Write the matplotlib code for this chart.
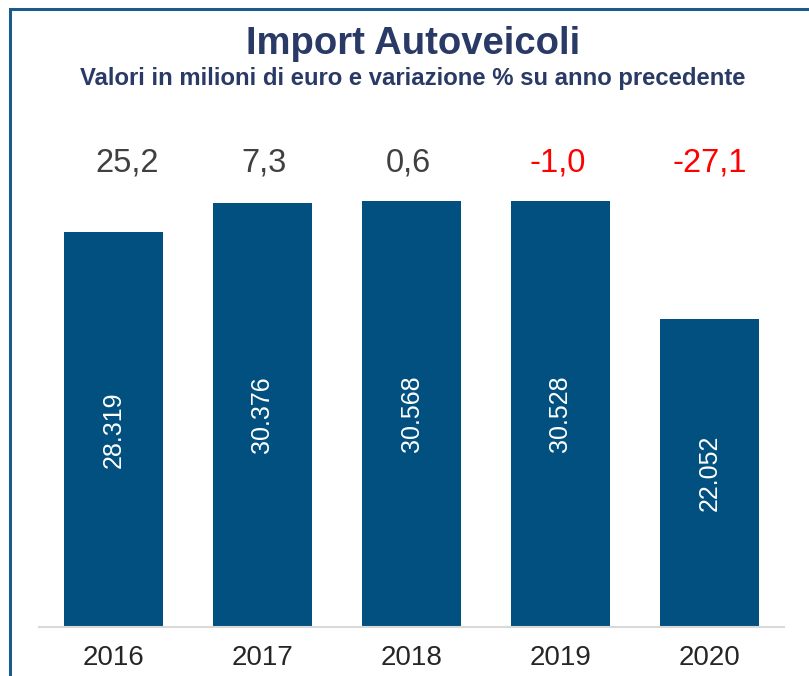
import matplotlib.pyplot as plt
from matplotlib.patches import Rectangle

plt.rcParams['font.family'] = ['Liberation Sans', 'DejaVu Sans']

# dati
anni = ['2016', '2017', '2018', '2019', '2020']
valori = [28319, 30376, 30568, 30528, 22052]
variazioni = [25.2, 7.3, 0.6, -1.0, -27.1]

W, H = 809, 676
fig = plt.figure(figsize=(W / 100, H / 100), dpi=100)
fig.patch.set_facecolor('white')

# cornice blu (lati destro e basso fuori immagine)
fig.add_artist(Rectangle((9.5 / W, -0.1), 1.2, 1.1 - 8.5 / H, transform=fig.transFigure,
                         fill=False, edgecolor='#1c5a8a', linewidth=2.2))

ax = fig.add_axes([39 / W, 1 - 627 / H, 745 / W, (627 - 140) / H])
x = range(len(anni))
bars = ax.bar(x, valori, width=0.665, color='#02507f', zorder=2)
ax.set_xlim(-0.5, 4.5)
ax.set_ylim(0, 34915)

for s in ['top', 'right', 'left']:
    ax.spines[s].set_visible(False)
ax.spines['bottom'].set_color('#d9d9d9')
ax.spines['bottom'].set_linewidth(1.5)
ax.set_yticks([])
ax.set_xticks(list(x))
ax.set_xticklabels(anni, fontsize=20, color='#262626')
ax.tick_params(axis='x', length=0, pad=13)

# le etichette % non sono tutte centrate esattamente sulla barra
sposta = [0.09, 0.01, -0.02, -0.02, 0]
for i, (v, p) in enumerate(zip(valori, variazioni)):
    ax.text(i, v / 2, f'{v:,}'.replace(',', '.'), rotation=90, ha='center', va='center',
            color='white', fontsize=18)
    col = '#ff0000' if p < 0 else '#404040'
    ax.text(i + sposta[i], 1 - 23 / 487, f'{p:.1f}'.replace('.', ','),
            transform=ax.get_xaxis_transform(),
            ha='center', va='center', color=col, fontsize=23.5)

fig.text(413 / W, 1 - 44 / H, 'Import Autoveicoli', ha='center', va='center',
         fontsize=27.5, fontweight='bold', color='#2a3a66')
fig.text(413 / W, 1 - 79 / H, 'Valori in milioni di euro e variazione % su anno precedente',
         ha='center', va='center', fontsize=17.2, fontweight='bold', color='#2a3a66')

fig.savefig('out.png', dpi=100)
